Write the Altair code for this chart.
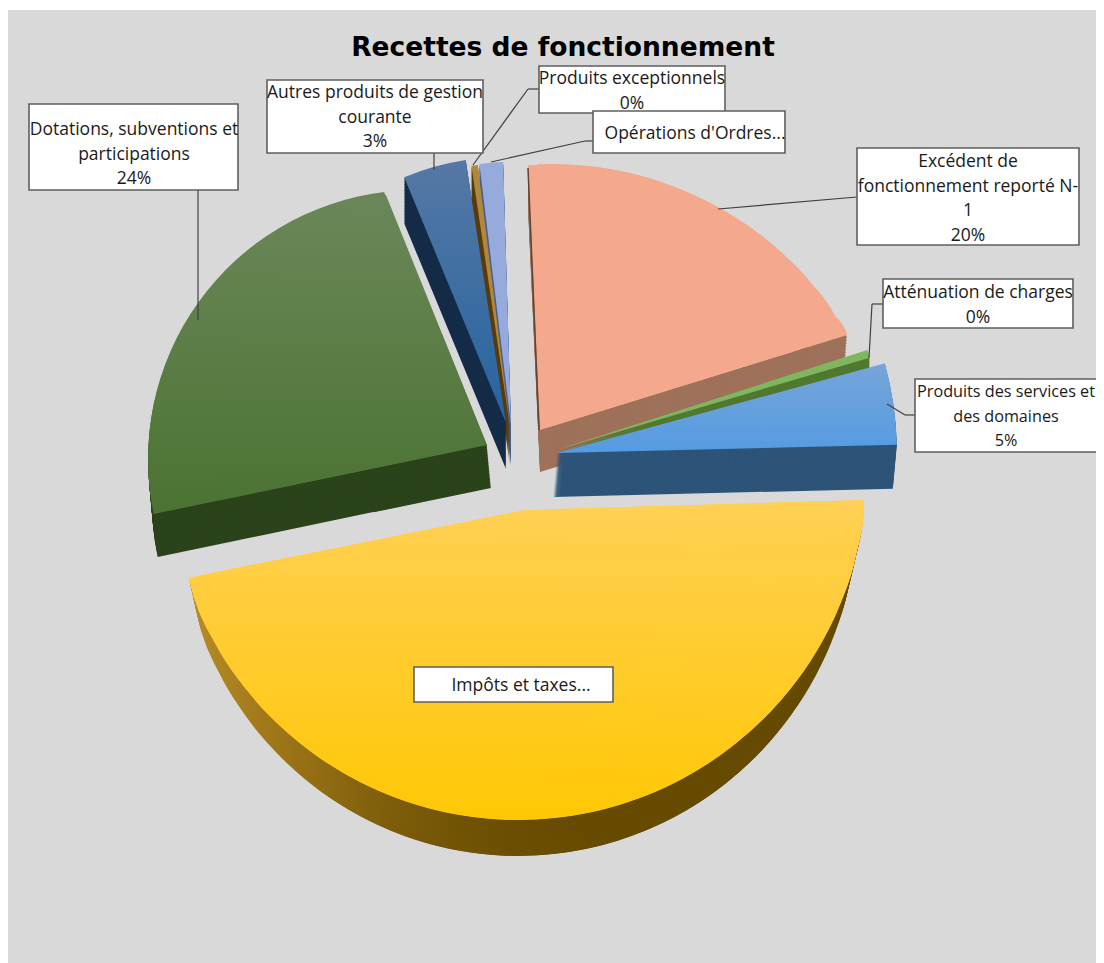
import math
import altair as alt
import pandas as pd

# ---- data
categories = ["Excédent de fonctionnement reporté N-1", "Atténuation de charges",
              "Produits des services et des domaines", "Impôts et taxes",
              "Dotations, subventions et participations",
              "Autres produits de gestion courante", "Produits exceptionnels",
              "Opérations d'Ordres"]
shares = [20.0, 0.3, 5.0, 45.9, 24.0, 3.0, 0.4, 1.4]
title_text = "Recettes de fonctionnement"

ends, run = [], 0.0
for v in shares:
    run += v
    ends.append(run)
starts = [e - v for e, v in zip(ends, shares)]
df = pd.DataFrame({"cat": categories, "start": starts, "end": ends})

W, H = 1088, 955
PX = lambda v: v - 8  # picture px -> plot px


def lerp(c1, c2, t):
    t = max(0.0, min(1.0, t))
    return "#%02x%02x%02x" % tuple(round(a + (b - a) * t) for a, b in zip(c1, c2))


def bbox(cx, cy, r, a0, a1):
    pts = [(cx, cy)]
    angs = [a0, a1] + [k * 90 for k in range(-8, 9) if a0 < k * 90 < a1]
    for a in angs:
        pts.append((cx + r * math.sin(math.radians(a)), cy - r * math.cos(math.radians(a))))
    xs, ys = zip(*pts)
    return min(xs), max(xs), min(ys), max(ys)


def vgrad(geom, ytop, ybot, ctop, cbot):
    _, _, y0, y1 = bbox(*geom)
    return alt.LinearGradient(gradient="linear", x1=0, x2=0, y1=0, y2=1, stops=[
        alt.GradientStop(offset=0, color=lerp(ctop, cbot, (y0 - ytop) / (ybot - ytop))),
        alt.GradientStop(offset=1, color=lerp(ctop, cbot, (y1 - ytop) / (ybot - ytop)))])


def hgrad(geom, stops):
    x0, x1, _, _ = bbox(*geom)
    def col(x):
        for (xa, ca), (xb, cb) in zip(stops, stops[1:]):
            if x <= xb:
                return lerp(ca, cb, (x - xa) / (xb - xa))
        return lerp(stops[-1][1], stops[-1][1], 0)
    n = 6
    return alt.LinearGradient(gradient="linear", x1=0, x2=1, y1=0, y2=0, stops=[
        alt.GradientStop(offset=i / n, color=col(x0 + (x1 - x0) * i / n)) for i in range(n + 1)])


def wedge(cat, geom, fill):
    cx, cy, r, a0, a1 = geom
    row = df[df.cat == cat]
    s, e = float(row.start.iloc[0]), float(row.end.iloc[0])
    scale = alt.Scale(domain=[s, e], range=[math.radians(a0), math.radians(a1)])
    return alt.Chart(row).mark_arc(radius=r, fill=fill, stroke=None).encode(
        theta=alt.Theta("start:Q", scale=scale),
        theta2=alt.Theta2("end:Q"),
        x=alt.value(PX(cx)), y=alt.value(PX(cy)))


def wall(cat, geom, depth, fill, dx=0.0, step=2):
    cx, cy, r, a0, a1 = geom
    out = []
    d = depth
    while d > 0:
        g = (cx + dx * d / depth, cy + d, r, a0, a1)
        out.append(wedge(cat, g, fill(g) if callable(fill) else fill))
        d -= step
    return out


def rim_parts(rim, tip, a0, a1, dirs):
    """Wedges that keep the perspective outline: each lies inside the slice and
    touches the slice's rim circle in one direction."""
    ex, ey, R = rim
    out = []
    for th in dirs:
        sx, sy = math.sin(math.radians(th)), -math.cos(math.radians(th))
        t = 0.0
        while t < R - 6:
            cx, cy = ex + t * sx, ey + t * sy
            ang = math.degrees(math.atan2(cx - tip[0], tip[1] - cy)) % 360
            lo, hi = a0 % 360, a1 % 360
            inside = (lo <= ang <= hi) if lo <= hi else (ang >= lo or ang <= hi)
            if inside:
                out.append((th, (round(cx, 1), round(cy, 1), round(R - t, 1), a0, a1)))
                break
            t += 2.0
    return out


def rule(x1, y1, x2, y2, color="#404040", w=1.2):
    return alt.Chart(pd.DataFrame({"k": [0]})).mark_rule(color=color, strokeWidth=w).encode(
        x=alt.value(PX(x1)), y=alt.value(PX(y1)), x2=alt.value(PX(x2)), y2=alt.value(PX(y2)))


def box(x1, y1, x2, y2):
    return alt.Chart(pd.DataFrame({"k": [0]})).mark_rect(
        fill="#ffffff", stroke="#5f5f5f", strokeWidth=1.6).encode(
        x=alt.value(PX(x1)), y=alt.value(PX(y1)), x2=alt.value(PX(x2)), y2=alt.value(PX(y2)))


def label(lines, x, y, size=17.5):
    return alt.Chart(pd.DataFrame({"k": [0]})).mark_text(
        text=lines, font="Open Sans", fontSize=size, lineHeight=24.5, align="center",
        baseline="alphabetic", color="#1a1a1a").encode(
        x=alt.value(PX(x)), y=alt.value(PX(y)))


layers = [alt.Chart(pd.DataFrame({"k": [0]})).mark_rect(fill="#d9d9d9").encode(
    x=alt.value(0), y=alt.value(2), x2=alt.value(W), y2=alt.value(H))]

# ---- small back slices
OPS = categories[7]
g = (511, 425, 263, 353.1, 358.3)
layers += wall(OPS, g, 40, "#4a5f90")
layers.append(wedge(OPS, g, "#96aadb"))

EXC = categories[6]
g = (510, 427, 264, 351.6, 353.0)
layers += wall(EXC, g, 38, "#5a3c0a")
layers.append(wedge(EXC, g, "#ae8741"))

AUT = categories[5]
g = (506, 423, 266, 337.5, 351.3)
layers += wall(AUT, g, 46, "#152c48", step=1.5)
layers.append(wedge(AUT, g, vgrad(g, 165, 423, (85, 120, 165), (38, 100, 160))))

# ---- salmon slice
SAL = categories[0]
sal_tip = (540, 430, 265, -2.6, 72.8)
sal_parts = rim_parts((552, 507, 343), (540, 430), -2.6, 72.8, list(range(-2, 64, 6)) + [60])
layers += wall(SAL, sal_tip, 42, "#9e715a")
for th, g in sal_parts:
    if th >= 40:
        layers += wall(SAL, g, 42, "#9e715a", dx=-3, step=3)
layers.append(wedge(SAL, sal_tip, "#f4a98e"))
for th, g in sal_parts:
    layers.append(wedge(SAL, g, "#f4a98e"))
layers.append(rule(528, 168, 539, 430, "#5f4334", 1.5))

# ---- green slice
DOT = categories[4]
g_a = (417, 459, 269, 258.2, 353)
g_b = (487, 445, 270, 258.3, 338)
layers += wall(DOT, g_a, 43, "#2b431b", dx=4)
layers += wall(DOT, (487, 445, 120, 258.3, 338), 43, "#2b431b", dx=4)
for g in [g_a, g_b]:
    layers.append(wedge(DOT, g, vgrad(g, 195, 514, (107, 135, 90), (75, 115, 50))))

# ---- thin green slice and light blue slice
ATT = categories[1]
g = (556, 450, 327, 72.2, 73.6)
layers += wall(ATT, g, 42, "#50792f")
layers.append(wedge(ATT, g, "#7fb75f"))

SRV = categories[2]
g = (557, 453, 340, 74.7, 88.6)
layers += wall(SRV, g, 44, "#2d5478", dx=-4, step=1)
layers.append(wedge(SRV, g, vgrad(g, 365, 453, (118, 165, 218), (85, 155, 225))))

# ---- yellow slice
IMP = categories[3]
imp_tip = (525, 510, 300, 88.3, 258.6)
imp_parts = rim_parts((518, 471, 349), (525, 510), 88.3, 258.6,
                      [86] + list(range(92, 258, 8)) + [256])
wall_stops = [(150, (195, 150, 45)), (300, (150, 112, 20)), (430, (115, 85, 5)),
              (560, (102, 74, 0)), (900, (100, 74, 0))]
for th, g in imp_parts:
    dx = -9 * math.sin(math.radians(th))
    step = 3 if (th < 112 or th > 236) else 12
    layers += wall(IMP, g, 36, lambda gg: hgrad(gg, wall_stops), dx=dx, step=step)
layers.append(wedge(IMP, imp_tip, vgrad(imp_tip, 500, 820, (255, 208, 85), (255, 200, 5))))
for th, g in imp_parts:
    layers.append(wedge(IMP, g, vgrad(g, 500, 820, (255, 208, 85), (255, 200, 5))))

# ---- leaders
for seg in [(198, 190, 198, 320), (434, 153, 434, 170), (539, 89, 528, 89), (528, 89, 473, 165),
            (593, 141, 585, 141), (585, 141, 491, 162), (857, 197, 718, 209),
            (883, 304, 872, 304), (872, 304, 869, 358), (915, 415, 905, 415), (905, 415, 887, 404)]:
    layers.append(rule(*seg))

# ---- label boxes
boxes = [
    ((29, 104, 238, 190), ["Dotations, subventions et", "participations", "24%"], 134, 135, 17.5),
    ((267, 80, 483, 153), ["Autres produits de gestion", "courante", "3%"], 375, 98, 17.5),
    ((539, 66, 725, 113), ["Produits exceptionnels", "0%"], 632, 84, 17.5),
    ((593, 111, 785, 153), ["Opérations d'Ordres..."], 695, 139, 17.5),
    ((857, 148, 1079, 245), ["Excédent de", "fonctionnement reporté N-", "1", "20%"], 968, 167, 17.5),
    ((883, 279, 1073, 328), ["Atténuation de charges", "0%"], 978, 298, 17.5),
    ((915, 379, 1110, 452), ["Produits des services et", "des domaines", "5%"], 1006, 397, 16.2),
    ((414, 667, 613, 702), ["Impôts et taxes..."], 521, 691, 17.5),
]
for rect, lines, lx, ly, size in boxes:
    layers.append(box(*rect))
    layers.append(label(lines, lx, ly, size))

# ---- title
layers.append(alt.Chart(pd.DataFrame({"k": [0]})).mark_text(
    text=title_text, font="DejaVu Sans", fontWeight="bold", fontSize=26.5, align="center",
    baseline="alphabetic", color="#000000").encode(
    x=alt.value(PX(563)), y=alt.value(PX(56))))

chart = alt.layer(*layers).resolve_scale(theta="independent").properties(
    width=W, height=H, padding=0, autosize=alt.AutoSizeParams(type="none"),
    background="#ffffff").configure_view(stroke=None)

chart.save("out.html", embed_options={"renderer": "svg", "actions": False})
